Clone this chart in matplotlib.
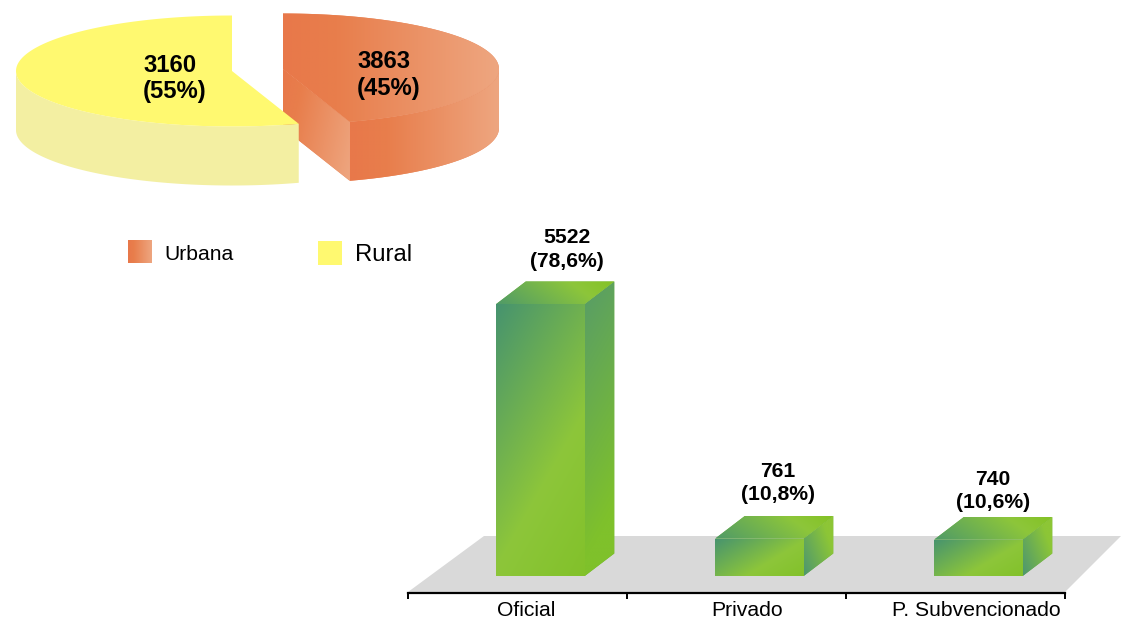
import numpy as np
import matplotlib
matplotlib.use('Agg')
import matplotlib.pyplot as plt
from matplotlib.colors import to_rgb
from matplotlib.patches import Polygon

plt.rcParams['font.family'] = ['Liberation Sans', 'DejaVu Sans']

# datos del pastel
zonas = ['Urbana', 'Rural']
zonas_n = [3863, 3160]
zonas_pct = [45, 55]
# datos de las barras
sectores = ['Oficial', 'Privado', 'P. Subvencionado']
sectores_n = [5522, 761, 740]
sectores_pct = ['78,6', '10,8', '10,6']

W, H = 1121, 617
fig = plt.figure(figsize=(W / 100, H / 100), dpi=100)

# colores
NAR = [(0, '#E8784A'), (0.25, '#E87E4C'), (1, '#EEA680')]
VERDE = [(0, '#46936F'), (0.62, '#8DC63A'), (1, '#82C12A')]
VERDE_TAPA = [(0, '#4F9A68'), (0.7, '#8DC63A'), (1, '#84C225')]
VERDE_LADO = [(0, '#4C9670'), (0.75, '#8DC636'), (1, '#8DC636')]
AMARILLO = '#FFF970'
AMARILLO_LADO = '#F3EFA2'
PISO = '#D9D9D9'


def degradado(ax, xy, paradas, ang=0, z=2):
	# rellena un poligono con degradado lineal
	xy = np.array(xy)
	x0, x1 = xy[:, 0].min(), xy[:, 0].max()
	y0, y1 = xy[:, 1].min(), xy[:, 1].max()
	u, w = np.meshgrid(np.linspace(0, 1, 200), np.linspace(1, 0, 200))
	c, s = np.cos(np.radians(ang)), np.sin(np.radians(ang))
	t = u * c + w * s
	t = (t - t.min()) / (t.max() - t.min())
	pos = [p[0] for p in paradas]
	cols = np.array([to_rgb(p[1]) for p in paradas])
	img = np.dstack([np.interp(t, pos, cols[:, i]) for i in range(3)])
	if ax.yaxis_inverted():
		ext = (x0, x1, y1, y0)
	else:
		ext = (x0, x1, y0, y1)
	xl, yl = ax.get_xlim(), ax.get_ylim()
	pol = Polygon(xy, closed=True, fc=cols.mean(axis=0), ec='none', zorder=z, clip_on=False)
	ax.add_patch(pol)
	im = ax.imshow(img, extent=ext, origin='upper', aspect='auto', zorder=z + 0.1, interpolation='bilinear')
	im.set_clip_path(pol)
	ax.set_xlim(xl)
	ax.set_ylim(yl)


# ---- pastel, en coordenadas de pixel
ax = fig.add_axes([0, 0, 1, 1])
ax.set_xlim(0, W)
ax.set_ylim(H, 0)
ax.axis('off')

RX, RY = 216, 55.5
ALTO = 59
inicio = 90
corte = inicio - zonas_pct[0] * 3.6  # angulo donde cambia de rebanada


def arco(cx, cy, a, b, dy=0):
	t = np.radians(np.linspace(a, b, 200))
	return np.column_stack([cx + RX * np.cos(t), cy - RY * np.sin(t) + dy])


# urbana: centro desplazado a la derecha
cu = (283, 69)
a_sup = arco(cu[0], cu[1], inicio, corte)
a_lado = arco(cu[0], cu[1], 0, corte)
a_lado_inf = arco(cu[0], cu[1], corte, 0, ALTO)
p_corte = a_sup[-1]
degradado(ax, [cu, p_corte, p_corte + [0, ALTO], [cu[0], cu[1] + ALTO]], NAR, -20, z=2)
degradado(ax, np.vstack([a_lado, a_lado_inf]), NAR, 0, z=2)
degradado(ax, np.vstack([[cu], a_sup]), NAR, 0, z=3)

# rural
cr = (232, 71)
r_lado = arco(cr[0], cr[1], 180, 360 + corte)
r_lado_inf = arco(cr[0], cr[1], 360 + corte, 180, ALTO)
ax.add_patch(Polygon(np.vstack([r_lado, r_lado_inf]), fc=AMARILLO_LADO, ec='none', zorder=4))
r_sup = arco(cr[0], cr[1], inicio, 360 + corte)
ax.add_patch(Polygon(np.vstack([[cr], r_sup]), fc=AMARILLO, ec='none', zorder=5))

ax.text(357, 75, '%d\n(%d%%)' % (zonas_n[0], zonas_pct[0]), fontsize=17.2, fontweight='bold',
	ha='left', va='center', linespacing=1.2, zorder=8)
ax.text(143, 78.5, '%d\n(%d%%)' % (zonas_n[1], zonas_pct[1]), fontsize=17.2, fontweight='bold',
	ha='left', va='center', linespacing=1.2, zorder=8)

# leyenda
degradado(ax, [(128, 240), (152, 240), (152, 263), (128, 263)], NAR, 0, z=3)
ax.add_patch(Polygon([(318, 241), (342, 241), (342, 265), (318, 265)], fc=AMARILLO, ec='none', zorder=3))
ax.text(164, 254, zonas[0], fontsize=15.2, va='center', ha='left', zorder=8)
ax.text(355, 255, zonas[1], fontsize=17.2, va='center', ha='left', zorder=8)

# ---- barras
# eje: de 408 a 1065 px en x; valor 0 en y=576 px, 5522 en y=304 px
por_px = sectores_n[0] / 272.0
ax2 = fig.add_axes([408 / W, (H - 593) / H, (1065 - 408) / W, 393 / H])
ax2.patch.set_alpha(0)
ax2.set_xlim(-0.5, 2.5)
ax2.set_ylim(-17 * por_px, 376 * por_px)
px_cat = 219.0  # pixeles por categoria
for s in ['top', 'left', 'right']:
	ax2.spines[s].set_visible(False)
ax2.spines['bottom'].set_linewidth(1.6)
ax2.set_yticks([])
ax2.set_xticks([-0.5, 0.5, 1.5, 2.5])
ax2.set_xticklabels([])
ax2.tick_params(axis='x', length=4.5, width=1.4, direction='out')

# piso gris
fy0 = -16 * por_px
fy1 = 40 * por_px
ax2.add_patch(Polygon([(-0.5, fy0), (-0.5 + 76 / px_cat, fy1), (2.5 + 56 / px_cat, fy1), (2.5, fy0)],
	fc=PISO, ec='none', zorder=1, clip_on=False))

ancho = 88.5 / px_cat
corr = 23 / px_cat
dx = 29.5 / px_cat
dy = 22.5 * por_px
desp_x = [26, 18, 14.5]
desp_y = [54.5, 55.5, 48.5]
etiq_x = [8.5, 10.5, 20.5]

x_pos = np.arange(len(sectores)) + corr
barras = ax2.bar(x_pos, sectores_n, width=ancho, color='#8DC63A', zorder=2)
for i, v in enumerate(sectores_n):
	x0 = x_pos[i] - ancho / 2
	x1 = x_pos[i] + ancho / 2
	barras[i].set_visible(False)
	degradado(ax2, [(x0, 0), (x1, 0), (x1, v), (x0, v)], VERDE, -35 if i else -60, z=3)
	if i == 0:
		lado = [(0, '#579C68'), (0.8, '#7FC12B'), (1, '#7FC12B')]
		ang_l = -80
	else:
		lado = VERDE_LADO
		ang_l = 35
	degradado(ax2, [(x1, 0), (x1 + dx, dy), (x1 + dx, v + dy), (x1, v)], lado, ang_l, z=3)
	degradado(ax2, [(x0, v), (x0 + dx, v + dy), (x1 + dx, v + dy), (x1, v)], VERDE_TAPA, 15, z=3)
	ax2.annotate('%d\n(%s%%)' % (v, sectores_pct[i]), xy=(x_pos[i], v), xytext=(desp_x[i], desp_y[i]),
		textcoords='offset pixels', fontsize=15.2, fontweight='bold', ha='center', va='center',
		linespacing=1.3, zorder=8, annotation_clip=False)
	ax2.annotate(sectores[i], xy=(i, 0), xycoords=('data', 'axes fraction'), xytext=(etiq_x[i], -23),
		textcoords='offset pixels', fontsize=15.2, ha='center', va='baseline', annotation_clip=False)

fig.savefig('out.png', dpi=100)
